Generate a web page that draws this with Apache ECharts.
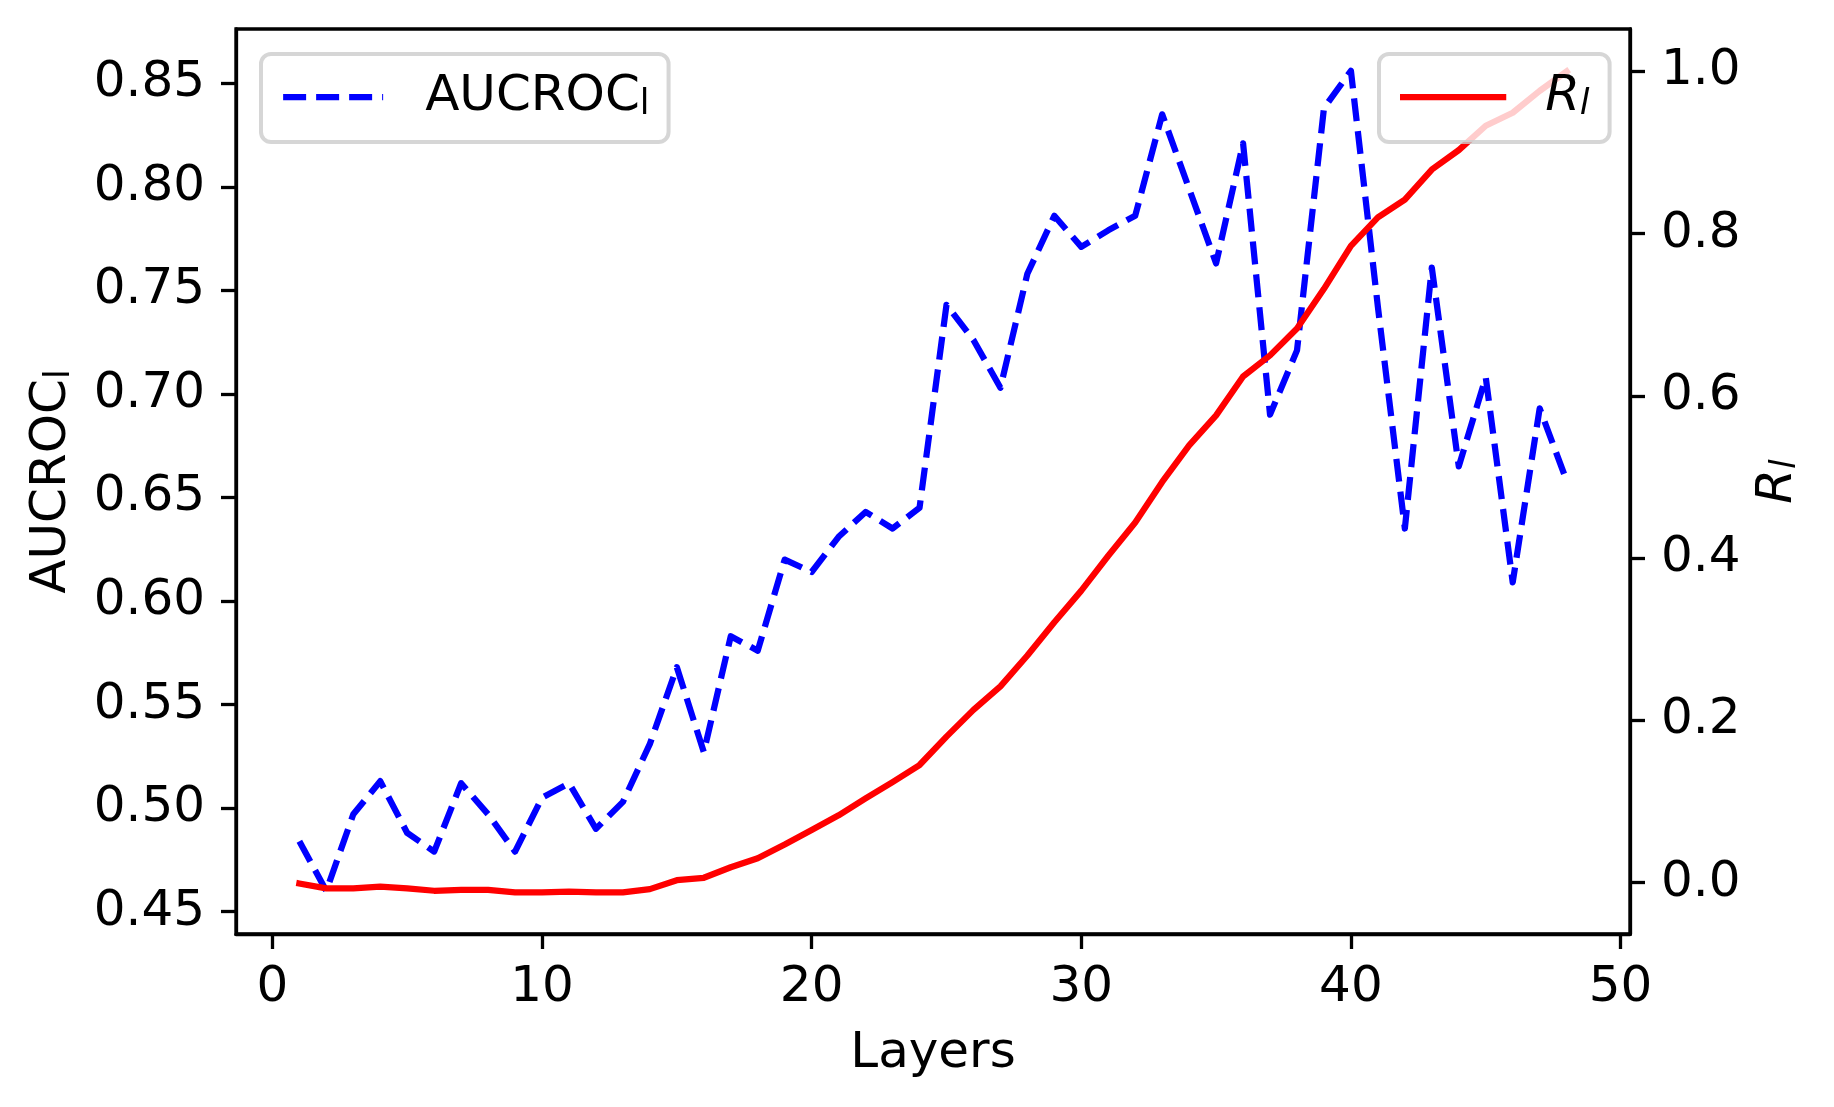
<!DOCTYPE html>
<html>
<head>
<meta charset="utf-8">
<script src="https://cdn.jsdelivr.net/npm/echarts@6/dist/echarts.min.js"></script>
<style>
html,body{margin:0;padding:0;background:#fff;}
#chart{width:1834px;height:1107px;}
</style>
</head>
<body>
<div id="chart"></div>
<script>
// ---- data ----
const layers = [1,2,3,4,5,6,7,8,9,10,11,12,13,14,15,16,17,18,19,20,21,22,23,24,25,26,27,28,29,30,31,32,33,34,35,36,37,38,39,40,41,42,43,44,45,46,47,48];
const aucroc = [0.484,0.460,0.497,0.513,0.488,0.479,0.512,0.497,0.479,0.505,0.512,0.490,0.503,0.531,0.568,0.527,0.583,0.576,0.620,0.614,0.631,0.643,0.635,0.645,0.743,0.726,0.703,0.758,0.786,0.771,0.779,0.786,0.835,0.799,0.763,0.821,0.690,0.721,0.838,0.856,0.742,0.635,0.761,0.665,0.708,0.609,0.693,0.658];
const rl = [-0.001,-0.007,-0.007,-0.005,-0.007,-0.010,-0.009,-0.009,-0.012,-0.012,-0.011,-0.012,-0.012,-0.008,0.003,0.006,0.019,0.030,0.047,0.065,0.083,0.104,0.124,0.145,0.180,0.213,0.242,0.280,0.321,0.360,0.403,0.444,0.494,0.539,0.576,0.624,0.650,0.683,0.732,0.785,0.820,0.842,0.879,0.903,0.933,0.949,0.976,1.000];
const xTicks = [0,10,20,30,40,50];
const leftTicks = [0.45,0.50,0.55,0.60,0.65,0.70,0.75,0.80,0.85];
const rightTicks = [0.0,0.2,0.4,0.6,0.8,1.0];

const FF = 'DejaVu Sans';
const aucRich = {
  a: {fontFamily: FF, fontSize: 50, lineHeight: 50, color: '#000'},
  s: {fontFamily: FF, fontSize: 35, lineHeight: 26, verticalAlign: 'bottom', color: '#000'}
};
const rRich = {
  r: {fontFamily: FF, fontStyle: 'italic', fontSize: 50, lineHeight: 50, color: '#000'},
  q: {fontFamily: FF, fontStyle: 'italic', fontSize: 35, lineHeight: 26, verticalAlign: 'bottom', color: '#000'}
};
const legAucRich = {
  a: Object.assign({}, aucRich.a, {padding: [0,0,0,37]}),
  s: aucRich.s
};
const legRRich = {
  r: Object.assign({}, rRich.r, {padding: [0,0,0,37]}),
  q: rRich.q
};

const axisLine = {show: true, onZero: false, lineStyle: {color: '#000', width: 3.3}};
const tick = (vals) => ({show: true, inside: false, length: 15, lineStyle: {color: '#000', width: 3.3}, customValues: vals});

const chart = echarts.init(document.getElementById('chart'), null, {renderer: 'canvas', width: 1834, height: 1107});
chart.setOption({
  animation: false,
  backgroundColor: '#fff',
  grid: {
    left: 236, right: 204, top: 29, bottom: 173,
    containLabel: false, outerBoundsMode: 'none',
    show: true, borderColor: '#000', borderWidth: 3.3, backgroundColor: 'transparent'
  },
  legend: [
    {
      data: ['AUCROC_l'], left: 261, top: 54, orient: 'horizontal',
      padding: [18, 19, 20, 19], itemWidth: 100, itemHeight: 20, selectedMode: false,
      backgroundColor: 'rgba(255,255,255,0.8)', borderColor: 'rgba(204,204,204,0.8)',
      borderWidth: 4, borderRadius: 10,
      itemStyle: {opacity: 0},
      lineStyle: {color: '#0000ff', width: 6.25, type: [23,10], cap: 'butt'},
      formatter: '{a|AUCROC}{s|l}',
      textStyle: {fontFamily: FF, fontSize: 50, color: '#000', rich: legAucRich}
    },
    {
      data: ['R_l'], left: 1379, top: 54, orient: 'horizontal',
      padding: [18, 20, 20, 21], itemWidth: 100, itemHeight: 20, selectedMode: false,
      backgroundColor: 'rgba(255,255,255,0.8)', borderColor: 'rgba(204,204,204,0.8)',
      borderWidth: 4, borderRadius: 10,
      itemStyle: {opacity: 0},
      lineStyle: {color: '#ff0000', width: 6.25, type: 'solid', cap: 'square'},
      formatter: '{r|R}{q|l}',
      textStyle: {fontFamily: FF, fontSize: 50, color: '#000', rich: legRRich}
    }
  ],
  xAxis: {
    type: 'value', min: -1.35, max: 50.35,
    axisLine: axisLine, splitLine: {show: false},
    axisTick: tick(xTicks),
    axisLabel: {customValues: xTicks, fontFamily: FF, fontSize: 50, color: '#000', margin: 29,
      formatter: v => String(v)},
    name: 'Layers', nameLocation: 'middle', nameGap: 95,
    nameTextStyle: {fontFamily: FF, fontSize: 50, color: '#000'}
  },
  yAxis: [
    {
      type: 'value', position: 'left', min: 0.4392, max: 0.8762,
      axisLine: axisLine, splitLine: {show: false},
      axisTick: tick(leftTicks),
      axisLabel: {customValues: leftTicks, fontFamily: FF, fontSize: 50, color: '#000', margin: 31,
        formatter: v => v.toFixed(2)},
      name: '{a|AUCROC}{s|l}', nameLocation: 'middle', nameRotate: 90, nameGap: 159,
      nameTextStyle: {fontFamily: FF, fontSize: 50, color: '#000', rich: aucRich}
    },
    {
      type: 'value', position: 'right', min: -0.0633, max: 1.0523,
      axisLine: axisLine, splitLine: {show: false},
      axisTick: tick(rightTicks),
      axisLabel: {customValues: rightTicks, fontFamily: FF, fontSize: 50, color: '#000', margin: 31,
        formatter: v => v.toFixed(1)},
      name: '{r|R}{q|l}', nameLocation: 'middle', nameRotate: 90, nameGap: 123,
      nameTextStyle: {fontFamily: FF, fontSize: 50, color: '#000', rich: rRich}
    }
  ],
  series: [
    {
      name: 'AUCROC_l', type: 'line', yAxisIndex: 0, symbol: 'none', showSymbol: false,
      data: layers.map((x, i) => [x, aucroc[i]]),
      lineStyle: {color: '#0000ff', width: 6.25, type: [23,10], join: 'round', cap: 'butt'},
      itemStyle: {color: '#0000ff'}, silent: true
    },
    {
      name: 'R_l', type: 'line', yAxisIndex: 1, symbol: 'none', showSymbol: false,
      data: layers.map((x, i) => [x, rl[i]]),
      lineStyle: {color: '#ff0000', width: 6.25, type: 'solid', join: 'round', cap: 'square'},
      itemStyle: {color: '#ff0000'}, silent: true
    }
  ]
});
</script>
</body>
</html>
